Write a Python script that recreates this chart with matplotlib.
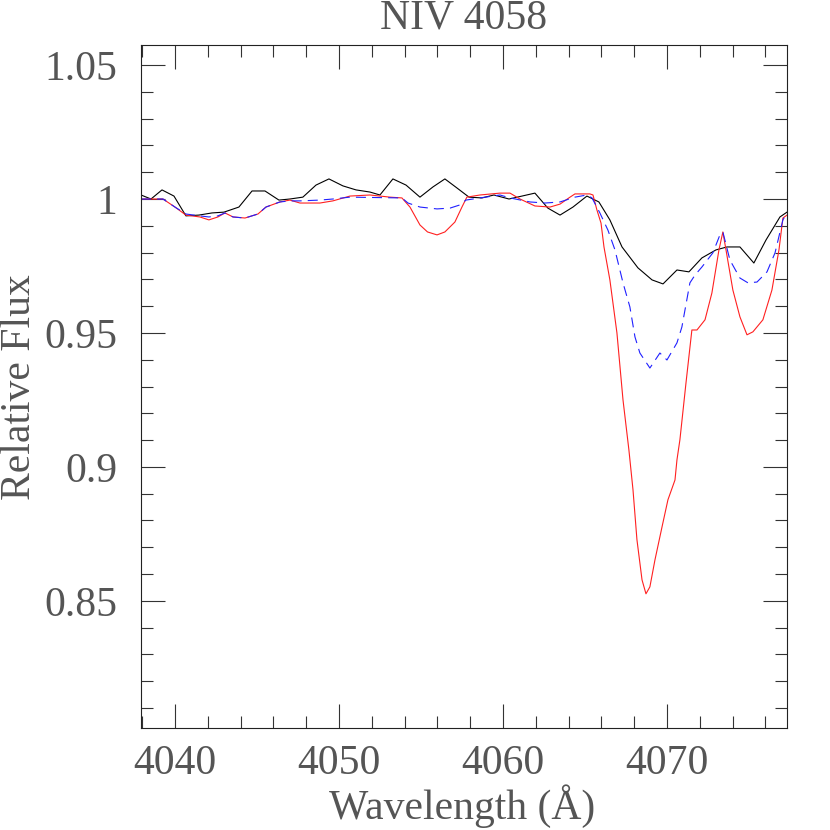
import matplotlib
matplotlib.use("Agg")
import matplotlib.pyplot as plt
from matplotlib.ticker import MultipleLocator

# Observed spectrum (black)
obs_wave = [4037.93, 4038.54, 4039.21, 4039.94, 4040.67, 4041.46, 4042.26, 4042.99, 4043.90,
            4044.70, 4045.49, 4046.34, 4047.01, 4047.80, 4048.60, 4049.39, 4050.24, 4051.04,
            4051.89, 4052.50, 4053.29, 4054.09, 4054.94, 4055.73, 4056.46, 4057.20, 4057.93,
            4058.72, 4059.45, 4060.37, 4061.16, 4061.95, 4062.74, 4063.48, 4064.27, 4065.12,
            4065.85, 4066.52, 4067.26, 4068.23, 4069.09, 4069.76, 4070.61, 4071.34, 4072.13,
            4072.99, 4073.66, 4074.45, 4075.30, 4076.04, 4076.89, 4077.32]
obs_flux = [1.0015, 1.0000, 1.0034, 1.0011, 0.9937, 0.9940, 0.9948, 0.9951, 0.9970,
            1.0030, 1.0030, 0.9996, 1.0000, 1.0007, 1.0052, 1.0075, 1.0049, 1.0034,
            1.0026, 1.0015, 1.0075, 1.0052, 1.0007, 1.0045, 1.0075, 1.0041, 1.0007,
            1.0004, 1.0015, 1.0000, 1.0011, 1.0022, 0.9966, 0.9940, 0.9970, 1.0011,
            0.9989, 0.9922, 0.9821, 0.9743, 0.9698, 0.9683, 0.9735, 0.9728, 0.9780,
            0.9810, 0.9821, 0.9821, 0.9761, 0.9847, 0.9933, 0.9951]

# Model 1 (red, solid)
red_wave = [4037.93, 4039.27, 4040.00, 4040.67, 4041.52, 4042.07, 4042.62, 4043.05, 4043.54,
            4044.27, 4045.06, 4045.55, 4046.40, 4047.01, 4047.62, 4048.84, 4049.63, 4050.67,
            4051.89, 4053.11, 4053.84, 4054.33, 4054.94, 4055.40, 4055.98, 4056.46, 4057.07,
            4057.50, 4057.80, 4058.60, 4059.82, 4060.43, 4061.04, 4061.95, 4062.87, 4063.48,
            4064.09, 4064.39, 4065.30, 4065.49, 4065.73, 4065.98, 4066.16, 4066.52, 4066.95,
            4067.32, 4067.68, 4067.93, 4068.17, 4068.48, 4068.72, 4068.96, 4069.27, 4069.70,
            4070.06, 4070.49, 4070.61, 4070.79, 4071.16, 4071.52, 4071.83, 4072.32, 4072.74,
            4073.17, 4073.41, 4073.60, 4074.02, 4074.45, 4074.88, 4075.24, 4075.85, 4076.40,
            4076.83, 4077.07, 4077.32]
red_flux = [1.0000, 1.0000, 0.9970, 0.9940, 0.9933, 0.9922, 0.9933, 0.9948, 0.9933,
            0.9929, 0.9944, 0.9970, 0.9989, 0.9996, 0.9985, 0.9985, 0.9993, 1.0011,
            1.0015, 1.0007, 1.0004, 0.9970, 0.9903, 0.9877, 0.9866, 0.9877, 0.9914,
            0.9970, 1.0007, 1.0015, 1.0022, 1.0022, 1.0000, 0.9974, 0.9970, 0.9981,
            1.0007, 1.0019, 1.0019, 1.0015, 0.9959, 0.9910, 0.9821, 0.9698, 0.9500,
            0.9250, 0.9063, 0.8914, 0.8728, 0.8578, 0.8526, 0.8552, 0.8653, 0.8776,
            0.8877, 0.8951, 0.9026, 0.9101, 0.9313, 0.9511, 0.9511, 0.9549, 0.9649,
            0.9810, 0.9877, 0.9810, 0.9660, 0.9560, 0.9493, 0.9504, 0.9549, 0.9660,
            0.9810, 0.9929, 0.9940]

# Model 2 (blue, dashed)
blue_wave = [4037.93, 4039.27, 4040.00, 4040.67, 4041.52, 4042.07, 4042.62, 4043.05, 4043.54,
             4044.27, 4045.06, 4045.55, 4046.40, 4047.01, 4047.62, 4048.84, 4049.63, 4050.67,
             4053.84, 4054.21, 4054.94, 4055.98, 4056.77, 4057.38, 4057.74, 4058.60, 4059.82,
             4060.43, 4061.65, 4062.56, 4063.48, 4064.39, 4065.12, 4065.43, 4065.91, 4066.40,
             4066.83, 4067.32, 4067.74, 4068.05, 4068.35, 4068.96, 4069.57, 4070.00, 4070.61,
             4070.91, 4071.40, 4071.71, 4072.13, 4072.80, 4073.23, 4073.41, 4073.84, 4074.45,
             4074.94, 4075.49, 4076.10, 4076.59, 4077.07, 4077.32]
blue_flux = [1.0000, 1.0000, 0.9970, 0.9944, 0.9937, 0.9933, 0.9937, 0.9948, 0.9933,
             0.9929, 0.9944, 0.9970, 0.9989, 0.9993, 0.9993, 0.9996, 1.0000, 1.0007,
             1.0004, 0.9985, 0.9970, 0.9963, 0.9966, 0.9978, 0.9996, 1.0004, 1.0015,
             1.0004, 0.9989, 0.9985, 0.9989, 1.0007, 1.0015, 1.0004, 0.9948, 0.9884,
             0.9810, 0.9687, 0.9597, 0.9485, 0.9425, 0.9369, 0.9425, 0.9399, 0.9463,
             0.9522, 0.9687, 0.9716, 0.9746, 0.9799, 0.9866, 0.9877, 0.9772, 0.9705,
             0.9687, 0.9690, 0.9728, 0.9799, 0.9922, 0.9948]

title = "NIV 4058"
xlabel = "Wavelength (Å)"
ylabel = "Relative Flux"

plt.rcParams['font.family'] = ['Liberation Serif', 'DejaVu Serif']
txt_color = '#555555'

fig = plt.figure(figsize=(8.3, 8.3), dpi=100)
ax = fig.add_axes([141/830, 1-728/830, (787-141)/830, (728-45)/830])

ax.plot(obs_wave, obs_flux, color='black', lw=0.8)
ax.plot(red_wave, red_flux, color='#ff2020', lw=0.8)
ax.plot(blue_wave, blue_flux, color='#2020ff', lw=0.8, dashes=(9, 5.5))

ax.set_xlim(4037.93, 4077.32)
ax.set_ylim(0.8025, 1.0575)

ax.xaxis.set_major_locator(MultipleLocator(10))
ax.xaxis.set_minor_locator(MultipleLocator(2))
ax.yaxis.set_minor_locator(MultipleLocator(0.01))
ax.set_yticks([0.85, 0.9, 0.95, 1.0, 1.05])
ax.set_yticklabels(['0.85', '0.9', '0.95', '1', '1.05'])

ax.tick_params(which='both', direction='in', top=True, right=True, color='#333333',
               labelcolor=txt_color, labelsize=30)
ax.tick_params(which='major', length=17, width=0.8)
ax.tick_params(which='minor', length=8.6, width=0.8)
ax.tick_params(axis='x', which='major', pad=12)
ax.tick_params(axis='y', which='major', pad=17)

for s in ax.spines.values():
    s.set_linewidth(0.8)
    s.set_color('#222222')

ax.set_title(title, fontsize=30, color=txt_color, pad=12)
fig.text(462/830, 1-806/830, xlabel, fontsize=30, color=txt_color,
         ha='center', va='center')
fig.text(20/830, 1-387/830, ylabel, fontsize=30, color=txt_color,
         ha='center', va='center', rotation=90)

fig.savefig('out.png', dpi=100)
